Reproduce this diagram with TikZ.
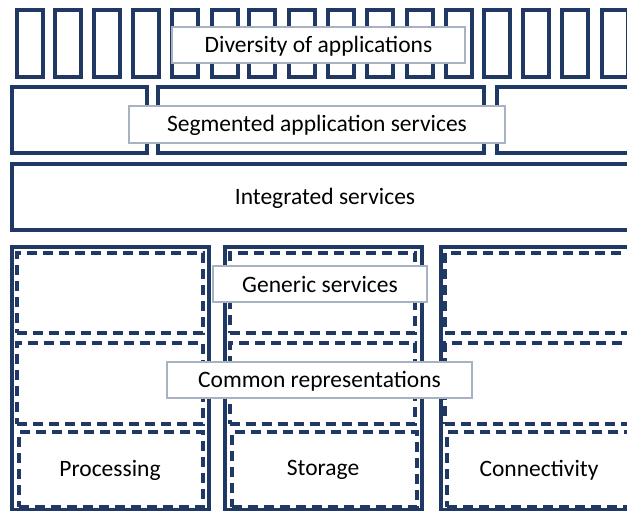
\documentclass[tikz,border=0pt]{standalone}
\usepackage{fontspec}
\setmainfont{Carlito}
\definecolor{navy}{HTML}{1F3864}
\definecolor{lblline}{HTML}{A7B2C3}
\begin{document}
\begin{tikzpicture}[x=1pt,y=-1pt,
  solidbox/.style={draw=navy,line width=3.2pt,rectangle,inner sep=0pt,outer sep=0pt,anchor=north west,fill=white},
  dashbox/.style={draw=navy,line width=3.2pt,dash pattern=on 10pt off 6pt,rectangle,inner sep=0pt,outer sep=0pt,anchor=north west},
  lbl/.style={draw=lblline,line width=2.2pt,fill=white,rectangle,inner sep=0pt,outer sep=0pt,anchor=north west},
  plain/.style={font=\fontsize{23.5}{28}\selectfont,inner sep=0pt}
]
\useasboundingbox (0,0) rectangle (627,511);
\clip (0,0) rectangle (627,511);
% top row of application boxes
\foreach \x [count=\i] in {17,55,94,133,172,212,249,289,328,367,407,446,484,523,562,602}{
  \node[solidbox,minimum width=26pt,minimum height=67pt] (app\i) at (\x,10) {};
}
\node[lbl,minimum width=293pt,minimum height=36pt] (div) at (172,27) {};
\node[plain] (divt) at ([yshift=-1pt]div.center) {Diversity of applications};
% segmented
\node[solidbox,minimum width=135pt,minimum height=66pt] (seg1) at (12,87) {};
\node[solidbox,minimum width=326pt,minimum height=66pt] (seg2) at (158,87) {};
\node[solidbox,minimum width=150pt,minimum height=66pt] (seg3) at (497,87) {};
\node[lbl,minimum width=376pt,minimum height=37pt] (segl) at (129,106) {};
\node[plain] (seglt) at ([yshift=-1pt]segl.center) {Segmented application services};
% integrated
\node[solidbox,minimum width=640pt,minimum height=66pt] (integ) at (12,164) {};
\node[plain] (integt) at (325,198) {Integrated services};
% columns
\node[solidbox,minimum width=197pt,minimum height=263pt] (col1) at (12,247) {};
\node[solidbox,minimum width=197pt,minimum height=263pt] (col2) at (225,247) {};
\node[solidbox,minimum width=200pt,minimum height=263pt] (col3) at (441,247) {};
% dashed inner boxes
\node[dashbox,minimum width=186pt,minimum height=80pt] (g1) at (17,253) {};
\node[dashbox,minimum width=186pt,minimum height=81pt] (r1) at (17,343) {};
\node[dashbox,minimum width=184pt,minimum height=75pt] (p1) at (19,432) {};
\node[dashbox,minimum width=185pt,minimum height=80pt] (g2) at (230,253) {};
\node[dashbox,minimum width=185pt,minimum height=81pt] (r2) at (230,343) {};
\node[dashbox,minimum width=185pt,minimum height=75pt] (p2) at (232,432) {};
\node[dashbox,minimum width=200pt,minimum height=80pt] (g3) at (445,253) {};
\node[dashbox,minimum width=200pt,minimum height=81pt] (r3) at (445,343) {};
\node[dashbox,minimum width=200pt,minimum height=75pt] (p3) at (447,432) {};
\node[plain] (proc) at (110,470) {Processing};
\node[plain] (stor) at (323,470) {Storage};
\node[plain] (conn) at (539,470) {Connectivity};
% labels
\node[lbl,minimum width=214pt,minimum height=36pt] (gen) at (213,266) {};
\node[plain] (gent) at ([yshift=-1pt]gen.center) {Generic services};
\node[lbl,minimum width=305pt,minimum height=36pt] (com) at (167,362) {};
\node[plain] (comt) at ([yshift=-1pt]com.center) {Common representations};
\end{tikzpicture}
\end{document}
